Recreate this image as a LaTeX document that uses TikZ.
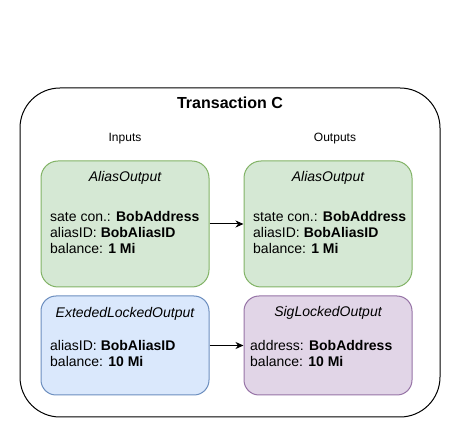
\documentclass[tikz,border=0pt]{standalone}
\usepackage{fontspec}
\setmainfont{Liberation Sans}
\usetikzlibrary{arrows.meta}
\definecolor{gfill}{HTML}{D5E8D4}
\definecolor{gdraw}{HTML}{82B366}
\definecolor{bfill}{HTML}{DAE8FC}
\definecolor{bdraw}{HTML}{6C8EBF}
\definecolor{pfill}{HTML}{E1D5E7}
\definecolor{pdraw}{HTML}{9673A6}
\begin{document}
\begin{tikzpicture}[x=1pt,y=-1pt,
  outerbox/.style={draw=black, line width=1pt, rounded corners=40pt, minimum width=420pt, minimum height=329pt, inner sep=0pt},
  utxo/.style={line width=1pt, minimum width=168pt, inner sep=0pt},
  greenbox/.style={utxo, fill=gfill, draw=gdraw, minimum height=126pt, rounded corners=17pt},
  bluebox/.style={utxo, fill=bfill, draw=bdraw, minimum height=99pt, rounded corners=15pt},
  purplebox/.style={utxo, fill=pfill, draw=pdraw, minimum height=99pt, rounded corners=15pt},
  boxtitle/.style={font=\fontsize{14}{16}\selectfont\itshape, inner sep=0pt, anchor=base},
  boxbody/.style={font=\fontsize{14}{16}\selectfont, inner sep=0pt, align=left, anchor=west},
  coltitle/.style={font=\fontsize{12}{14}\selectfont, inner sep=0pt, anchor=base},
  flow/.style={line width=1pt, -{Stealth[length=8pt,width=7pt,inset=2.5pt]}}
]
\useasboundingbox (0,0) rectangle (461,446);
\node[outerbox] (tx) at (230,252.5) {};
\node[font=\fontsize{16}{18}\selectfont\bfseries, inner sep=0pt, anchor=base] (title) at (230,109) {Transaction C};
\node[coltitle] (inputs) at (125,141.3) {Inputs};
\node[coltitle] (outputs) at (335,141.3) {Outputs};

\node[greenbox] (in1) at (125,224) {};
\node[greenbox] (out1) at (328,224) {};
\node[bluebox] (in2) at (125,345.5) {};
\node[purplebox] (out2) at (328,345.5) {};

\node[boxtitle] (in1t) at (125,182) {AliasOutput};
\node[boxbody] (in1b) at (50,232) {sate con.: \textbf{BobAddress}\\aliasID: \textbf{BobAliasID}\\balance: \textbf{1 Mi}};
\node[boxtitle] (out1t) at (328,182) {AliasOutput};
\node[boxbody] (out1b) at (253,232) {state con.: \textbf{BobAddress}\\aliasID: \textbf{BobAliasID}\\balance: \textbf{1 Mi}};

\node[boxtitle] (in2t) at (125,317.5) {ExtededLockedOutput};
\node[boxbody] (in2b) at (50,353) {aliasID: \textbf{BobAliasID}\\balance: \textbf{10 Mi}};
\node[boxtitle] (out2t) at (328,317) {SigLockedOutput};
\node[boxbody] (out2b) at (250,353) {address: \textbf{BobAddress}\\balance: \textbf{10 Mi}};

\draw[flow] (in1) -- (out1);
\draw[flow] (in2) -- (out2);
\end{tikzpicture}
\end{document}
